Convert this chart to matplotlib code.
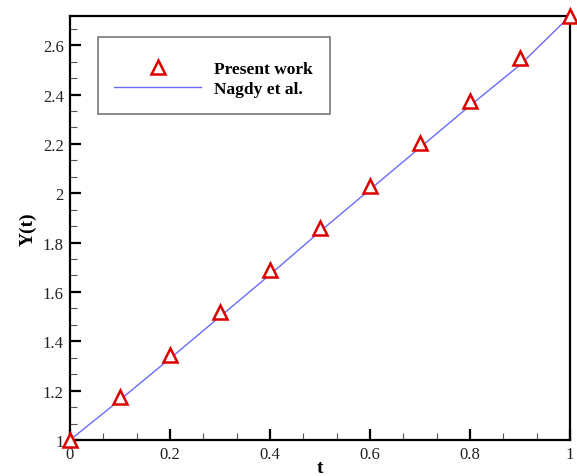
import numpy as np
import matplotlib.pyplot as plt
from matplotlib.ticker import AutoMinorLocator, MultipleLocator

# data
t = [0.0, 0.1, 0.2, 0.3, 0.4, 0.5, 0.6, 0.7, 0.8, 0.9, 1.0]
y_present = [1.0, 1.175, 1.345, 1.52, 1.69, 1.86, 2.03, 2.205, 2.375, 2.55, 2.718]
y_nagdy = [1.0, 1.163, 1.33, 1.50, 1.67, 1.845, 2.015, 2.185, 2.355, 2.52, 2.718]

plt.rcParams['font.family'] = ['Liberation Serif', 'DejaVu Serif']

fig = plt.figure(figsize=(5.77, 4.77), dpi=100)
ax = fig.add_axes([70 / 577, 36 / 477, 500 / 577, 424 / 477])

ax.plot(t, y_present, linestyle='none', marker='^', markersize=10,
        markerfacecolor='white', markeredgecolor='#dd0000', markeredgewidth=1.8,
        label='Present work', clip_on=False, zorder=3)
ax.plot(t, y_nagdy, color='#6a6aff', lw=1.0, label='Nagdy et al.', zorder=2)

ax.set_xlim(0, 1)
ax.set_ylim(1, np.e)
ax.xaxis.set_major_locator(MultipleLocator(0.2))
ax.yaxis.set_major_locator(MultipleLocator(0.2))
ax.xaxis.set_minor_locator(AutoMinorLocator(3))
ax.yaxis.set_minor_locator(AutoMinorLocator(3))
ax.set_xticks([0, 0.2, 0.4, 0.6, 0.8, 1.0], ['0', '0.2', '0.4', '0.6', '0.8', '1'])
ax.set_yticks([1, 1.2, 1.4, 1.6, 1.8, 2.0, 2.2, 2.4, 2.6],
              ['1', '1.2', '1.4', '1.6', '1.8', '2', '2.2', '2.4', '2.6'])

for s in ax.spines.values():
    s.set_linewidth(1.6)
ax.tick_params(which='major', direction='in', length=8, width=1.6,
               labelsize=12, labelcolor='#222222')
ax.tick_params(axis='x', which='major', pad=4)
ax.tick_params(axis='y', which='major', pad=4.5)
ax.tick_params(which='minor', direction='in', length=5, width=0.8, color='#555555')

ax.set_xlabel('t', fontsize=14, fontweight='bold', labelpad=-2)
ax.set_ylabel('Y(t)', fontsize=14, fontweight='bold', labelpad=4)

# empty tiny title pushes the rows down a bit, like the original box
leg = ax.legend(loc='upper left', bbox_to_anchor=(98 / 577, 1 - 38 / 477),
                bbox_transform=fig.transFigure, frameon=True, fancybox=False,
                prop={'weight': 'bold', 'size': 12.5}, handlelength=5.0,
                handletextpad=0.75, borderpad=0.95, labelspacing=0.22,
                borderaxespad=0, title=' ', title_fontsize=2.5)
leg.get_frame().set_edgecolor('#555555')
leg.get_frame().set_linewidth(1.2)

fig.savefig('out.png', dpi=100)
